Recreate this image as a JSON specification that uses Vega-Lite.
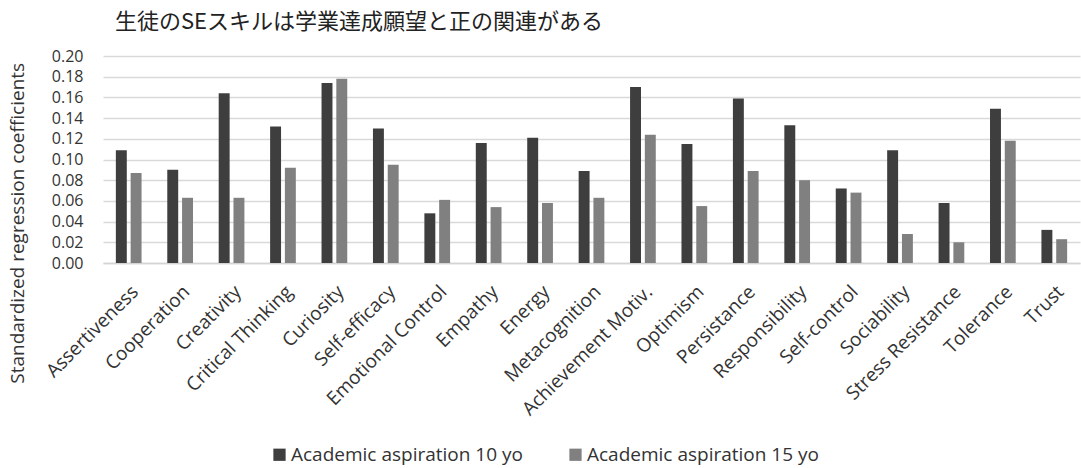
{
  "$schema": "https://vega.github.io/schema/vega-lite/v6.json",
  "width": 977,
  "height": 207,
  "autosize": {"type": "none"},
  "padding": {"left": 103, "top": 56, "right": 1, "bottom": 205},
  "background": "#ffffff",
  "title": {
    "text": "生徒のSEスキルは学業達成願望と正の関連がある",
    "anchor": "start",
    "frame": "group",
    "orient": "top",
    "dx": 12,
    "offset": 14,
    "font": "Noto Sans CJK JP",
    "fontSize": 22,
    "fontWeight": "normal",
    "color": "#222222"
  },
  "data": {
    "values": [
      {"skill": "Assertiveness", "group": "Academic aspiration 10 yo", "value": 0.109},
      {"skill": "Assertiveness", "group": "Academic aspiration 15 yo", "value": 0.087},
      {"skill": "Cooperation", "group": "Academic aspiration 10 yo", "value": 0.090},
      {"skill": "Cooperation", "group": "Academic aspiration 15 yo", "value": 0.063},
      {"skill": "Creativity", "group": "Academic aspiration 10 yo", "value": 0.164},
      {"skill": "Creativity", "group": "Academic aspiration 15 yo", "value": 0.063},
      {"skill": "Critical Thinking", "group": "Academic aspiration 10 yo", "value": 0.132},
      {"skill": "Critical Thinking", "group": "Academic aspiration 15 yo", "value": 0.092},
      {"skill": "Curiosity", "group": "Academic aspiration 10 yo", "value": 0.174},
      {"skill": "Curiosity", "group": "Academic aspiration 15 yo", "value": 0.178},
      {"skill": "Self-efficacy", "group": "Academic aspiration 10 yo", "value": 0.130},
      {"skill": "Self-efficacy", "group": "Academic aspiration 15 yo", "value": 0.095},
      {"skill": "Emotional Control", "group": "Academic aspiration 10 yo", "value": 0.048},
      {"skill": "Emotional Control", "group": "Academic aspiration 15 yo", "value": 0.061},
      {"skill": "Empathy", "group": "Academic aspiration 10 yo", "value": 0.116},
      {"skill": "Empathy", "group": "Academic aspiration 15 yo", "value": 0.054},
      {"skill": "Energy", "group": "Academic aspiration 10 yo", "value": 0.121},
      {"skill": "Energy", "group": "Academic aspiration 15 yo", "value": 0.058},
      {"skill": "Metacognition", "group": "Academic aspiration 10 yo", "value": 0.089},
      {"skill": "Metacognition", "group": "Academic aspiration 15 yo", "value": 0.063},
      {"skill": "Achievement Motiv.", "group": "Academic aspiration 10 yo", "value": 0.170},
      {"skill": "Achievement Motiv.", "group": "Academic aspiration 15 yo", "value": 0.124},
      {"skill": "Optimism", "group": "Academic aspiration 10 yo", "value": 0.115},
      {"skill": "Optimism", "group": "Academic aspiration 15 yo", "value": 0.055},
      {"skill": "Persistance", "group": "Academic aspiration 10 yo", "value": 0.159},
      {"skill": "Persistance", "group": "Academic aspiration 15 yo", "value": 0.089},
      {"skill": "Responsibility", "group": "Academic aspiration 10 yo", "value": 0.133},
      {"skill": "Responsibility", "group": "Academic aspiration 15 yo", "value": 0.080},
      {"skill": "Self-control", "group": "Academic aspiration 10 yo", "value": 0.072},
      {"skill": "Self-control", "group": "Academic aspiration 15 yo", "value": 0.068},
      {"skill": "Sociability", "group": "Academic aspiration 10 yo", "value": 0.109},
      {"skill": "Sociability", "group": "Academic aspiration 15 yo", "value": 0.028},
      {"skill": "Stress Resistance", "group": "Academic aspiration 10 yo", "value": 0.058},
      {"skill": "Stress Resistance", "group": "Academic aspiration 15 yo", "value": 0.020},
      {"skill": "Tolerance", "group": "Academic aspiration 10 yo", "value": 0.149},
      {"skill": "Tolerance", "group": "Academic aspiration 15 yo", "value": 0.118},
      {"skill": "Trust", "group": "Academic aspiration 10 yo", "value": 0.032},
      {"skill": "Trust", "group": "Academic aspiration 15 yo", "value": 0.023}
    ]
  },
  "mark": {"type": "bar"},
  "encoding": {
    "x": {
      "field": "skill",
      "type": "nominal",
      "sort": null,
      "scale": {"paddingInner": 0.5, "paddingOuter": 0.25},
      "axis": {
        "title": null,
        "labelAngle": -45,
        "labelAlign": "right",
        "labelBaseline": "top",
        "labelPadding": 19,
        "labelDx": -6,
        "labelFont": "Open Sans",
        "labelFontSize": 19,
        "labelColor": "#333333",
        "labelOverlap": false,
        "labelLimit": 400,
        "ticks": false,
        "domain": true,
        "domainColor": "#d4d4d4",
        "domainWidth": 1.5,
        "grid": false
      }
    },
    "xOffset": {
      "field": "group",
      "type": "nominal",
      "scale": {"paddingInner": 0.26, "paddingOuter": 0}
    },
    "y": {
      "field": "value",
      "type": "quantitative",
      "scale": {"domain": [0, 0.2], "nice": false},
      "axis": {
        "title": "Standardized regression coefficients",
        "titleFont": "Open Sans",
        "titleFontSize": 19,
        "titleFontWeight": "normal",
        "titleColor": "#333333",
        "titleX": -85.5,
        "titleY": 166.8,
        "titleAngle": -90,
        "titleAlign": "center",
        "titleBaseline": "middle",
        "values": [0, 0.02, 0.04, 0.06, 0.08, 0.1, 0.12, 0.14, 0.16, 0.18, 0.2],
        "format": ".2f",
        "labelFont": "Open Sans",
        "labelFontSize": 16,
        "labelColor": "#333333",
        "labelPadding": 20,
        "labelOverlap": false,
        "ticks": false,
        "domain": false,
        "grid": true,
        "gridColor": "#d9d9d9",
        "gridWidth": 1.5
      }
    },
    "color": {
      "field": "group",
      "type": "nominal",
      "scale": {"range": ["#3e3e3e", "#808080"]},
      "legend": {
        "title": null,
        "orient": "none",
        "direction": "horizontal",
        "legendX": 167,
        "legendY": 389,
        "symbolType": "square",
        "symbolSize": 150,
        "symbolStrokeWidth": 0,
        "labelFont": "Open Sans",
        "labelFontSize": 19,
        "labelColor": "#333333",
        "labelOffset": 2,
        "columnPadding": 43,
        "labelLimit": 400
      }
    }
  },
  "config": {
    "view": {"stroke": null}
  }
}
